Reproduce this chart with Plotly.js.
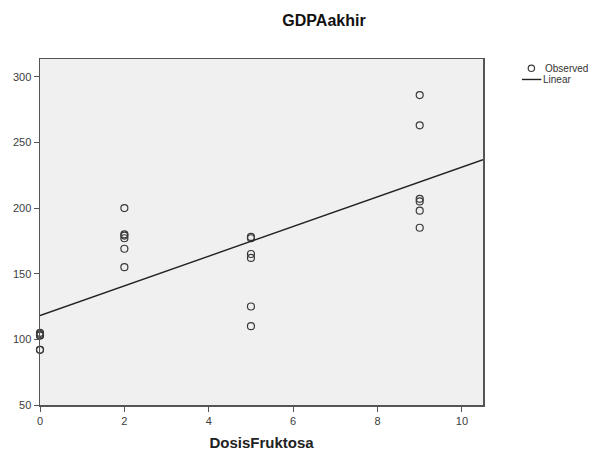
<!DOCTYPE html>
<html>
<head>
<meta charset="utf-8">
<script src="https://cdn.plot.ly/plotly-3.0.1.min.js"></script>
<style>html,body{margin:0;padding:0;background:#fff;}#chart{width:595px;height:451px;}</style>
</head>
<body>
<div id="chart"></div>
<script>
// Observed data: dose of fructose (x) and GDP at the end (y)
const dosis = [0, 0, 0, 0, 0, 0,
               2, 2, 2, 2, 2, 2,
               5, 5, 5, 5, 5, 5,
               9, 9, 9, 9, 9, 9];
const gdpAkhir = [105, 104, 103, 103, 92, 92,
                  200, 180, 179, 177, 169, 155,
                  178, 177, 165, 162, 125, 110,
                  286, 263, 207, 205, 198, 185];
const chartTitle = "GDPAakhir";
const xTitle = "DosisFruktosa";
const legendNames = ["Observed", "Linear"];
const xTicks = [0, 2, 4, 6, 8, 10];
const yTicks = [50, 100, 150, 200, 250, 300];
const xRange = [0, 10.5];
const yRange = [50, 313.5];

// Least squares linear fit
const n = dosis.length;
const mx = dosis.reduce((a, b) => a + b, 0) / n;
const my = gdpAkhir.reduce((a, b) => a + b, 0) / n;
let sxy = 0, sxx = 0;
for (let i = 0; i < n; i++) { sxy += (dosis[i] - mx) * (gdpAkhir[i] - my); sxx += (dosis[i] - mx) ** 2; }
const slope = sxy / sxx;
const intercept = my - slope * mx;
const fitX = [xRange[0], xRange[1]];
const fitY = fitX.map(v => intercept + slope * v);

const W = 595, H = 451;
const M = { l: 39.5, r: 111.5, t: 59, b: 45.5 };
const pw = W - M.l - M.r, ph = H - M.t - M.b;
// convert page pixels to paper coordinates (for the small legend key)
const px = v => (v - M.l) / pw;
const py = v => 1 - (v - M.t) / ph;

const traces = [
  {
    x: dosis, y: gdpAkhir, type: "scatter", mode: "markers", name: legendNames[0],
    marker: { symbol: "circle-open", size: 7, color: "#3a3a3a", line: { width: 1.2, color: "#3a3a3a" } },
    cliponaxis: false, showlegend: false
  },
  {
    x: fitX, y: fitY, type: "scatter", mode: "lines", name: legendNames[1],
    line: { color: "#222222", width: 1.4 }, showlegend: false
  }
];

const layout = {
  width: W, height: H,
  paper_bgcolor: "#ffffff",
  plot_bgcolor: "#f0f0f0",
  margin: { l: M.l, r: M.r, t: M.t, b: M.b, pad: 0, autoexpand: false },
  font: { family: "Liberation Sans, Arial, sans-serif", color: "#3c3c3c" },
  title: {
    text: "<b>" + chartTitle + "</b>",
    font: { size: 16, color: "#111", family: "Liberation Sans, Arial, sans-serif" },
    x: 324 / W, xanchor: "center", xref: "container",
    y: 1 - 20 / H, yanchor: "middle", yref: "container"
  },
  xaxis: {
    range: xRange, tickmode: "array", tickvals: xTicks,
    ticks: "outside", ticklen: 5, tickcolor: "#555", tickwidth: 1,
    showgrid: false, zeroline: false,
    showline: true, linecolor: "#555", linewidth: 1.5, mirror: true,
    color: "#3c3c3c",
    tickfont: { size: 11, color: "#3c3c3c", family: "Liberation Sans, Arial, sans-serif" },
    title: { text: "<b>" + xTitle + "</b>", font: { size: 15, color: "#222" }, standoff: 12 }
  },
  yaxis: {
    range: yRange, tickmode: "array", tickvals: yTicks,
    ticks: "outside", ticklen: 5, tickcolor: "#555", tickwidth: 1,
    showgrid: false, zeroline: false,
    showline: true, linecolor: "#555", linewidth: 1.5, mirror: true,
    color: "#3c3c3c",
    tickfont: { size: 11, color: "#3c3c3c", family: "Liberation Sans, Arial, sans-serif" }
  },
  showlegend: false,
  shapes: [
    { type: "circle", xref: "paper", yref: "paper",
      x0: px(528.8), x1: px(535.2), y0: py(71.5), y1: py(65.1),
      line: { color: "#3a3a3a", width: 1.2 } },
    { type: "line", xref: "paper", yref: "paper",
      x0: px(522.5), x1: px(542), y0: py(79.5), y1: py(79.5),
      line: { color: "#222", width: 1.4 } }
  ],
  annotations: [
    { text: legendNames[0], xref: "paper", yref: "paper", x: px(544), y: py(68.3),
      xanchor: "left", yanchor: "middle", showarrow: false, font: { size: 10, color: "#333" } },
    { text: legendNames[1], xref: "paper", yref: "paper", x: px(541.5), y: py(79.5),
      xanchor: "left", yanchor: "middle", showarrow: false, font: { size: 10, color: "#333" } }
  ]
};

Plotly.newPlot("chart", traces, layout, { staticPlot: true, displayModeBar: false });
</script>
</body>
</html>
